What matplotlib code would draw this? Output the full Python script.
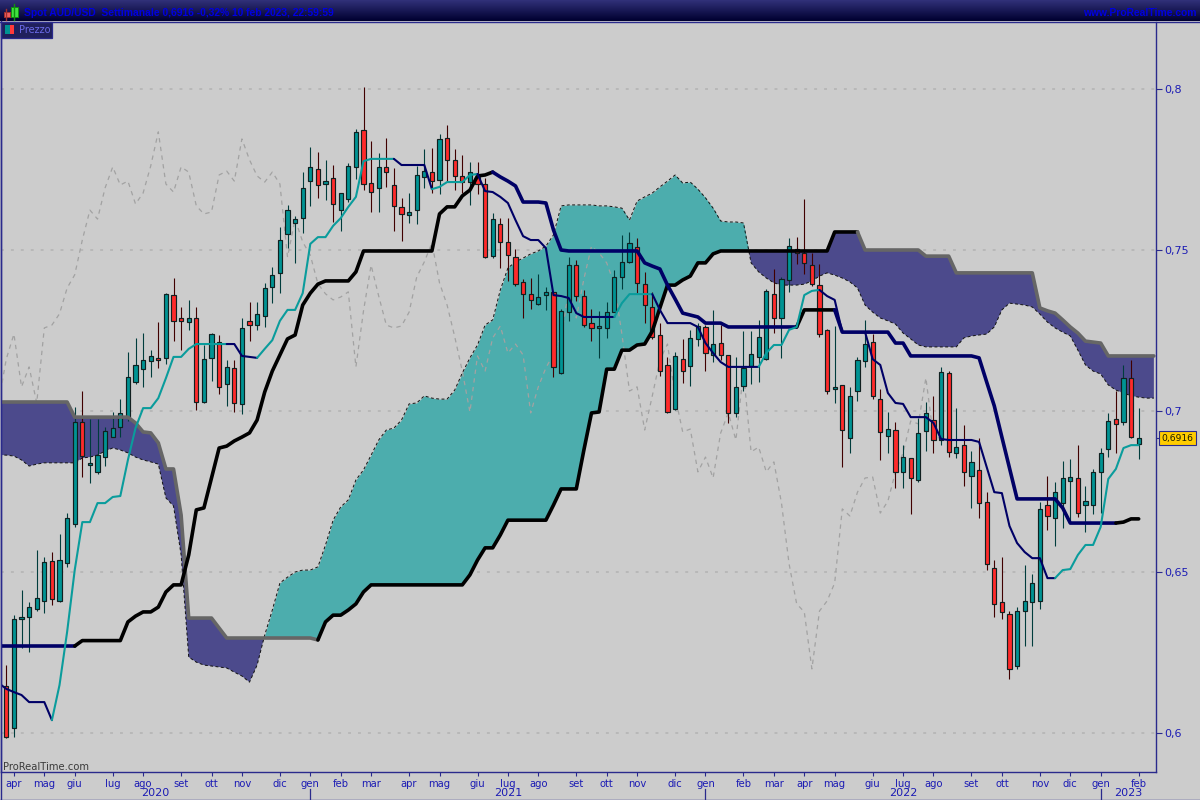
import numpy as np
import matplotlib
matplotlib.use('Agg')
from matplotlib import pyplot as plt
from matplotlib.patches import Rectangle
from matplotlib.transforms import blended_transform_factory

# AUD/USD weekly
opens = [.6147, .6016, .6354, .6361, .6385, .6411, .6534, .6411, .6529, .6650,
         .6966, .6833, .6811, .6858, .6920, .6951, .6982, .7091, .7131, .7156,
         .7166, .7166, .7360, .7289, .7277, .7289, .7029, .7165, .7214, .7084,
         .7134, .7022, .7280, .7267, .7296, .7385, .7429, .7550, .7585, .7599,
         .7714, .7751, .7705, .7723, .7624, .7658, .7758, .7873, .7708, .7693,
         .7758, .7702, .7634, .7609, .7624, .7727, .7742, .7717, .7848, .7780,
         .7730, .7711, .7727, .7705, .7482, .7581, .7525, .7479, .7402, .7363,
         .7332, .7360, .7370, .7118, .7307, .7453, .7357, .7273, .7258, .7258,
         .7307, .7417, .7464, .7509, .7394, .7323, .7236, .7143, .7006, .7161,
         .7140, .7224, .7261, .7174, .7211, .7174, .6994, .7078, .7140, .7168,
         .7161, .7363, .7289, .7407, .7503, .7491, .7453, .7391, .7252, .7069,
         .7081, .6916, .7062, .7155, .7214, .7037, .6922, .6941, .6811, .6854,
         .6786, .6938, .6972, .6910, .7118, .6870, .6894, .6798, .6817, .6717,
         .6512, .6407, .6370, .6208, .6379, .6407, .6410, .6708, .6668, .6714,
         .6783, .6792, .6708, .6708, .6811, .6882, .6975, .6966, .7103, .6898]
highs = [.6211, .6366, .6444, .6408, .6568, .6547, .6562, .6618, .6683, .7012,
         .7062, .6975, .6975, .6950, .6998, .7037, .7183, .7227, .7242, .7189,
         .7276, .7366, .7413, .7323, .7345, .7323, .7205, .7242, .7236, .7158,
         .7158, .7289, .7339, .7339, .7398, .7448, .7571, .7640, .7606, .7742,
         .7820, .7804, .7779, .7764, .7677, .7770, .7876, .8006, .7839, .7801,
         .7848, .7755, .7662, .7677, .7761, .7814, .7817, .7860, .7888, .7814,
         .7795, .7773, .7773, .7724, .7616, .7600, .7599, .7503, .7410, .7413,
         .7425, .7386, .7370, .7317, .7478, .7469, .7376, .7317, .7311, .7339,
         .7438, .7547, .7556, .7537, .7432, .7370, .7273, .7168, .7184, .7224,
         .7252, .7273, .7267, .7314, .7267, .7174, .7168, .7248, .7248, .7283,
         .7379, .7441, .7416, .7537, .7540, .7658, .7491, .7457, .7255, .7264,
         .7081, .7075, .7168, .7283, .7239, .7068, .6997, .6966, .6894, .6854,
         .6978, .7028, .7047, .7137, .7124, .7009, .6957, .6876, .6916, .6748,
         .6537, .6547, .6379, .6391, .6522, .6494, .6717, .6798, .6780, .6845,
         .6851, .6894, .6767, .6820, .6885, .6994, .7062, .7143, .7158, .7009]
lows = [.5983, .5988, .6264, .6252, .6380, .6373, .6398, .6408, .6516, .6641,
        .6796, .6776, .6804, .6830, .6920, .6919, .6970, .7084, .7074, .7106,
        .7134, .7146, .7218, .7189, .7252, .7003, .7025, .7093, .7053, .7016,
        .6998, .6991, .7217, .7252, .7262, .7336, .7367, .7506, .7460, .7554,
        .7637, .7662, .7655, .7588, .7560, .7650, .7720, .7686, .7619, .7619,
        .7697, .7560, .7529, .7585, .7582, .7693, .7677, .7674, .7714, .7686,
        .7677, .7640, .7674, .7476, .7475, .7444, .7405, .7388, .7289, .7317,
        .7329, .7314, .7106, .7115, .7280, .7343, .7261, .7218, .7166, .7227,
        .7307, .7379, .7461, .7367, .7274, .7224, .7110, .6994, .7003, .7088,
        .7079, .7203, .7124, .7152, .7158, .6964, .6982, .7063, .7084, .7091,
        .7158, .7243, .7165, .7370, .7457, .7425, .7389, .7231, .7053, .7026,
        .6827, .6870, .7032, .7138, .7038, .6848, .6870, .6762, .6761, .6680,
        .6780, .6876, .6870, .6894, .6857, .6854, .6768, .6699, .6668, .6506,
        .6361, .6354, .6168, .6199, .6271, .6271, .6385, .6630, .6582, .6638,
        .6652, .6671, .6625, .6681, .6683, .6857, .6870, .6957, .6916, .6851]
closes = [.5989, .6354, .6361, .6391, .6419, .6531, .6416, .6537, .6668, .6966,
          .6861, .6838, .6863, .6939, .6947, .6994, .7106, .7143, .7158, .7171,
          .7159, .7363, .7280, .7280, .7289, .7029, .7162, .7239, .7075, .7137,
          .7025, .7258, .7267, .7302, .7382, .7423, .7531, .7624, .7596, .7693,
          .7758, .7702, .7714, .7643, .7677, .7761, .7867, .7705, .7680, .7758,
          .7742, .7637, .7612, .7618, .7733, .7745, .7714, .7845, .7780, .7730,
          .7711, .7742, .7705, .7478, .7596, .7525, .7484, .7395, .7364, .7345,
          .7354, .7370, .7137, .7311, .7453, .7357, .7267, .7258, .7264, .7307,
          .7416, .7463, .7522, .7398, .7329, .7231, .7124, .6997, .7171, .7124,
          .7227, .7264, .7180, .7208, .7174, .6994, .7075, .7134, .7177, .7230,
          .7373, .7289, .7410, .7512, .7491, .7460, .7394, .7239, .7062, .7075,
          .6941, .7047, .7158, .7208, .7047, .6935, .6944, .6811, .6857, .6792,
          .6932, .6994, .6910, .7121, .6873, .6888, .6811, .6842, .6714, .6525,
          .6401, .6376, .6199, .6379, .6410, .6466, .6696, .6674, .6748, .6792,
          .6795, .6683, .6720, .6811, .6870, .6969, .6960, .7103, .6919, .6916]

# ichimoku lines, these start one week before the first bar (at the left edge)
kijun = [.6270] * 11 + [.6287] * 6 + [.6345, .6363, .6376, .6376, .6391, .6438, .6460, .6460,
         .6553, .6693, .6699, .6792, .6885, .6891, .6907, .6919, .6932, .6972, .7059, .7124,
         .7174, .7224, .7236, .7329, .7366, .7394, .7404, .7404, .7404, .7404, .7432] + [.7497] * 10 + [
         .7612, .7634, .7634, .7668, .7686, .7730, .7733, .7742, .7727, .7714, .7699, .7649,
         .7649, .7649, .7646, .7562, .7500] + [.7497] * 10 + [.7460, .7450, .7441, .7391, .7348,
         .7304, .7298, .7292, .7273, .7273, .7273] + [.7261] * 10 + [.7314] * 5 + [.7245] * 7 + [
         .7211, .7211] + [.7171] * 9 + [.7165, .7090, .7016, .6919, .6823] + [.6727] * 6 + [
         .6699] + [.6652] * 7 + [.6655, .6665, .6665]
tenkan = [.6155, .6137, .6127, .6118, .6096, .6096, .6096, .6040, .6149, .6314, .6506, .6655, .6655,
          .6714, .6714, .6733, .6736, .6848, .6947, .7009, .7009, .7040, .7102, .7168, .7168,
          .7193] + [.7208] * 6 + [.7171, .7168, .7165, .7193, .7220, .7280, .7314, .7314, .7366,
          .7519, .7540, .7540, .7575, .7599, .7634, .7665, .7776] + [.7783] * 4 + [.7764] * 4 + [
          .7689, .7696, .7711, .7711, .7711, .7733, .7736, .7683, .7680, .7665, .7646, .7593,
          .7543, .7531, .7531, .7506, .7360, .7357, .7351, .7304] + [.7292] * 5 + [.7335] + [
          .7363] * 4 + [.7314] + [.7273] * 4 + [.7261, .7211, .7180, .7152] + [.7137] * 5 + [
          .7180, .7205, .7205, .7252, .7261, .7360, .7373, .7376, .7357, .7345] + [.7245] * 4 + [
          .7161, .7143, .7056, .7025, .7022, .6981, .6981, .6981, .6963, .6913] + [.6910] * 4 + [
          .6904, .6826, .6748, .6745, .6643, .6590, .6562, .6543, .6543, .6481, .6481, .6506,
          .6509, .6553, .6584, .6584, .6640, .6789, .6820, .6885, .6894, .6894]

# cloud edges, same start and two weeks past the last bar
senkou_a = [.6863, .6863, .6860, .6848, .6829, .6835] + [.6839] * 5 + [.6854, .6857, .6863, .6876, .6885,
            .6879, .6870, .6857, .6848, .6842, .6835, .6730, .6705, .6553, .6236, .6220, .6211,
            .6208, .6205, .6202, .6189, .6177, .6158, .6211, .6304, .6382, .6466, .6484, .6500,
            .6506, .6506, .6516, .6584, .6661, .6702, .6724, .6786, .6817, .6863, .6910, .6941,
            .6947, .6972, .7022, .7025, .7047, .7040, .7037, .7037, .7065, .7118, .7165, .7205,
            .7267, .7283, .7376, .7444, .7463, .7475, .7488, .7497, .7512, .7547, .7637] + [
            .7640] * 4 + [.7637, .7637, .7634, .7630, .7593, .7652, .7665, .7677, .7696, .7714,
            .7733, .7708, .7711, .7689, .7662, .7630, .7590, .7587, .7587, .7584, .7460, .7432,
            .7413, .7398, .7391, .7391, .7391, .7394, .7404, .7419, .7429, .7422, .7413, .7401,
            .7382, .7329, .7307, .7289, .7280, .7270, .7242, .7224, .7205] + [.7199] * 5 + [
            .7227, .7233, .7236, .7239, .7261, .7314, .7335, .7332, .7329, .7323, .7301, .7276,
            .7258, .7245, .7233, .7189, .7143, .7124, .7115, .7081, .7065, .7056, .7047, .7043,
            .7040, .7040]
senkou_b = [.7028] * 10 + [.6981] * 8 + [.6963, .6935, .6932, .6901, .6820, .6820, .6677] + [
            .6357] * 4 + [.6326] + [.6295] * 12 + [.6289, .6345, .6366, .6366, .6382, .6401,
            .6438] + [.6460] * 13 + [.6491, .6537, .6575, .6575, .6615] + [.6661] * 6 + [.6708] + [
            .6758] * 3 + [.6879, .6994, .6997, .7130, .7130, .7189, .7189, .7205, .7208, .7248,
            .7320, .7391, .7391, .7407, .7419, .7460, .7460, .7488] + [.7497] * 15 + [.7556] * 4 + [
            .7500] * 8 + [.7481] * 4 + [.7429] * 11 + [.7320, .7311, .7304, .7283, .7261, .7242,
            .7217, .7214, .7211] + [.7171] * 7

month_ticks = [1, 5, 9, 14, 18, 23, 27, 31, 36, 40, 44, 48, 53, 57, 62, 66, 70, 75, 79, 83, 88,
               92, 97, 101, 105, 109, 114, 118, 122, 127, 131, 136, 140, 144, 149]
month_labels = ['apr', 'mag', 'giu', 'lug', 'ago', 'set', 'ott', 'nov', 'dic', 'gen', 'feb', 'mar',
                'apr', 'mag', 'giu', 'lug', 'ago', 'set', 'ott', 'nov', 'dic', 'gen', 'feb', 'mar',
                'apr', 'mag', 'giu', 'lug', 'ago', 'set', 'ott', 'nov', 'dic', 'gen', 'feb']
year_labels = ['2020', '2021', '2022', '2023']
year_starts = [40, 92, 144]
price_ticks = [.6, .65, .7, .75, .8]

TEAL = '#009393'
RED = '#ff2a2a'
NAVY = '#000066'
FRAME = '#2a2a8c'
BLUE_TXT = '#1c1cb4'
BG = '#cccccc'

plt.rcParams['font.family'] = ['DejaVu Sans']

fig = plt.figure(figsize=(12, 8), dpi=100, facecolor=BG)
ax = fig.add_axes([1 / 1200, 28 / 800, 1155 / 1200, 750 / 800], facecolor=BG)
xmin, xmax = -0.7, 151.28
ax.set_xlim(xmin, xmax)
ax.set_ylim(0.58789, 0.82081)

x = np.arange(len(closes))
o = np.array(opens)
c = np.array(closes)
up = c >= o

# grid, dotted
for p in price_ticks:
    ax.axhline(p, color='#b8b8b8', lw=1.4, dashes=(1.5, 3.6), zorder=1)

# cloud
xc = np.arange(len(senkou_a)) - 1
a = np.array(senkou_a)
b = np.array(senkou_b)
ax.fill_between(xc, a, b, where=a >= b, interpolate=True, color='#4cadad', lw=0, zorder=2)
ax.fill_between(xc, a, b, where=a < b, interpolate=True, color='#4c4a8c', lw=0, zorder=2)
ax.plot(xc, a, color='#111111', lw=0.7, dashes=(3, 2.5), zorder=3)


def draw_segments(xs, ys, segments, lw):
    for start, end, color in segments:
        ax.plot(xs[start + 1:end + 2], ys[start + 1:end + 2], color=color, lw=lw, zorder=7,
                solid_capstyle='round', solid_joinstyle='round')


draw_segments(xc, b, [(-1, 41, '#666666'), (41, 112, '#000000'), (112, 151, '#666666')], 2.6)

# lagging line is the close moved back 26 weeks
ax.plot(x[:-25] - 1, c[25:], color='#a2a2a2', lw=0.9, dashes=(3.5, 3.5), zorder=4)

# candles
ax.vlines(x[up], np.array(lows)[up], np.array(highs)[up], color='#003c3c', lw=0.8, zorder=5)
ax.vlines(x[~up], np.array(lows)[~up], np.array(highs)[~up], color='#400000', lw=0.8, zorder=5)
ax.bar(x, np.abs(c - o), bottom=np.minimum(o, c), width=0.56, color=[TEAL if u else RED for u in up],
       edgecolor='#102020', lw=0.85, zorder=6)

# ichimoku lines
xl = np.arange(len(kijun)) - 1
draw_segments(xl, np.array(kijun), [(-1, 9, NAVY), (9, 64, '#000000'), (64, 104, NAVY), (104, 109, '#000000'),
                                    (109, 146, NAVY), (146, 149, '#000000')], 2.6)
draw_segments(xl, np.array(tenkan), [(-1, 6, NAVY), (6, 29, '#0a9c9c'), (29, 33, NAVY), (33, 51, '#0a9c9c'),
                                     (51, 56, NAVY), (56, 62, '#0a9c9c'), (62, 80, NAVY), (80, 85, '#0a9c9c'),
                                     (85, 99, NAVY), (99, 107, '#0a9c9c'), (107, 138, NAVY),
                                     (138, 149, '#0a9c9c')], 1.5)

# axes look
ax.spines['top'].set_visible(False)
for side in ['left', 'right', 'bottom']:
    ax.spines[side].set_color(FRAME)
    ax.spines[side].set_linewidth(1.0)
ax.yaxis.tick_right()
ax.set_yticks(price_ticks + [closes[-1]])
ax.set_yticklabels([f'{p:g}'.replace('.', ',') for p in price_ticks] + [''])
ax.tick_params(axis='y', length=4, width=0.8, color=FRAME, labelcolor=BLUE_TXT, labelsize=8, pad=2)
ax.set_xticks(month_ticks)
ax.set_xticklabels(month_labels)
ax.tick_params(axis='x', length=3, width=0.8, color=FRAME, labelcolor=BLUE_TXT, labelsize=7.2, pad=2)

trans = blended_transform_factory(ax.transData, ax.transAxes)
edges = [xmin] + year_starts + [xmax]
for i, label in enumerate(year_labels):
    ax.text((edges[i] + edges[i + 1]) / 2, -21 / 750, label, transform=trans, ha='center', va='center',
            fontsize=8, color=BLUE_TXT)
for s in year_starts:
    ax.plot([s, s], [-17 / 750, -27 / 750], transform=trans, color=FRAME, lw=0.9, clip_on=False)

# last price flag
ax.text(1.0185, closes[-1], f'{closes[-1]:.4f}'.replace('.', ','),
        transform=blended_transform_factory(ax.transAxes, ax.transData), ha='center', va='center',
        fontsize=6.6, color='#1a1a00',
        bbox=dict(boxstyle='square,pad=0.3', facecolor='#ffcc00', edgecolor=FRAME, lw=0.8))
ax.text(2 / 1155, 5 / 750, 'ProRealTime.com', transform=ax.transAxes, color='#3a3a3a', fontsize=7.2,
        ha='left', va='center')

# header bar, legend box, outer frame: drawn in pixel units on a full size overlay
over = fig.add_axes([0, 0, 1, 1], facecolor='none', zorder=10)
shade = np.linspace(0, 1, 21)[:, None, None]
grad = (1 - shade) * np.array([[[0x30, 0x30, 0x78]]]) / 255 + shade * np.array([[[0, 0, 0x30]]]) / 255
over.imshow(grad, extent=(0, 1200, 21, 0), aspect='auto')
over.set_xlim(0, 1200)
over.set_ylim(800, 0)
over.axis('off')
over.plot([0, 1200], [21.5, 21.5], color=FRAME, lw=1.0)
over.plot([0.5, 0.5], [21, 800], color=FRAME, lw=1.0)
over.plot([0, 1200], [799.5, 799.5], color=FRAME, lw=1.0)

over.plot([6, 6], [9, 20], color='#a03030', lw=1)
over.add_patch(Rectangle((3.5, 11.5), 6, 5.5, facecolor='#f06060', edgecolor='#a03030', lw=0.7))
over.plot([14, 14], [4, 20], color='#109010', lw=1)
over.add_patch(Rectangle((11, 7), 6.5, 9.5, facecolor='#40e040', edgecolor='#109010', lw=0.7))
over.text(24, 12.5, 'Spot AUD/USD  Settimanale 0,6916 -0,32% 10 feb 2023, 22:59:59', color='#0000e0',
          fontsize=7.4, fontweight='bold', family=['Liberation Sans'], ha='left', va='center')
over.text(1196.5, 12.5, 'www.ProRealTime.com', color='#0000e0', fontsize=7.4, fontweight='bold',
          family=['Liberation Sans'], ha='right', va='center')

over.add_patch(Rectangle((1, 22), 51, 15.5, facecolor='#20205c', edgecolor=FRAME, lw=0.9))
over.add_patch(Rectangle((5, 25), 4.5, 9, facecolor=TEAL, edgecolor='none'))
over.add_patch(Rectangle((9.5, 25), 4.5, 9, facecolor='#ff3a3a', edgecolor='none'))
over.text(18.5, 30, 'Prezzo', color='#6a6ae8', fontsize=7, ha='left', va='center')

fig.savefig('out.png', dpi=100, facecolor=BG)
